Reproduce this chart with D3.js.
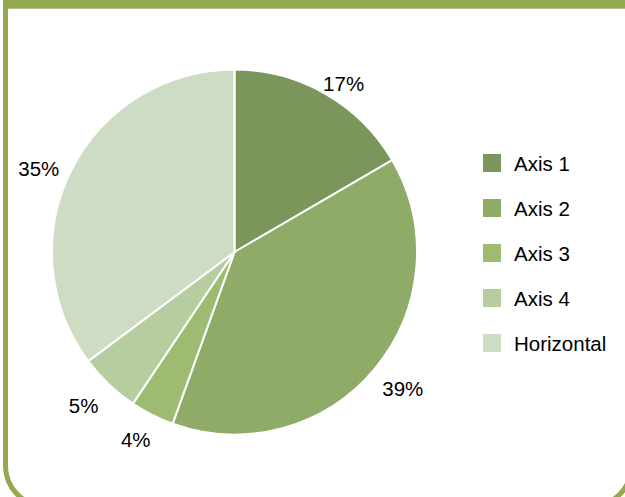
<!DOCTYPE html>
<html>
<head>
<meta charset="utf-8">
<script src="https://cdn.jsdelivr.net/npm/d3@7"></script>
<style>
  html, body { margin: 0; padding: 0; background: #ffffff; }
  svg { display: block; }
  text { font-family: "Liberation Sans", Arial, sans-serif; fill: #000; }
</style>
</head>
<body>
<script>
// Data
const categories = ["Axis 1", "Axis 2", "Axis 3", "Axis 4", "Horizontal"];
const values = [16.6, 38.9, 3.9, 5.4, 35.2];
const colors = ["#7b965b", "#8eab68", "#9dbc72", "#b6cda0", "#cddcc2"];

const W = 625, H = 497;
const svg = d3.select("body").append("svg").attr("width", W).attr("height", H);

// Frame
const frameColor = "#93a94f";
svg.append("rect")
  .attr("x", 5.5).attr("y", -40).attr("width", 626).attr("height", 546)
  .attr("rx", 40).attr("ry", 40)
  .attr("fill", "none").attr("stroke", frameColor).attr("stroke-width", 5);
svg.append("rect")
  .attr("x", 3).attr("y", 0).attr("width", W - 3).attr("height", 8.7)
  .attr("fill", frameColor);

// Pie
const cx = 234.5, cy = 252, R = 182.5;
const data = categories.map((c, i) => ({ cat: c, value: values[i], color: colors[i] }));
const pie = d3.pie().value(d => d.value).sort(null);
const arcs = pie(data);
const arc = d3.arc().innerRadius(0).outerRadius(R);

const g = svg.append("g").attr("transform", `translate(${cx},${cy})`);
g.selectAll("path.slice").data(arcs).enter().append("path")
  .attr("class", "slice")
  .attr("d", arc)
  .attr("fill", d => d.data.color)
  .attr("stroke", "#ffffff")
  .attr("stroke-width", 2)
  .attr("stroke-linejoin", "round");

// Outside labels (elliptical placement around the pie)
const Rx = 219, Ry = 202, dy0 = 7;
g.selectAll("text.lbl").data(arcs).enter().append("text")
  .attr("class", "lbl")
  .attr("x", d => { const a = (d.startAngle + d.endAngle) / 2; return Rx * Math.sin(a); })
  .attr("y", d => { const a = (d.startAngle + d.endAngle) / 2; return -Ry * Math.cos(a) + dy0; })
  .attr("text-anchor", "middle")
  .attr("dominant-baseline", "central")
  .attr("font-size", 20.5)
  .text(d => Math.round(d.value) + "%");

// Legend
const legend = svg.append("g").attr("transform", "translate(483,154)");
const step = 45, sw = 18;
const items = legend.selectAll("g.item").data(data).enter().append("g")
  .attr("class", "item")
  .attr("transform", (d, i) => `translate(0,${i * step})`);
items.append("rect")
  .attr("width", sw).attr("height", sw)
  .attr("fill", d => d.color);
items.append("text")
  .attr("x", 31).attr("y", sw / 2)
  .attr("dominant-baseline", "central")
  .attr("font-size", 20.5)
  .text(d => d.cat);
</script>
</body>
</html>
